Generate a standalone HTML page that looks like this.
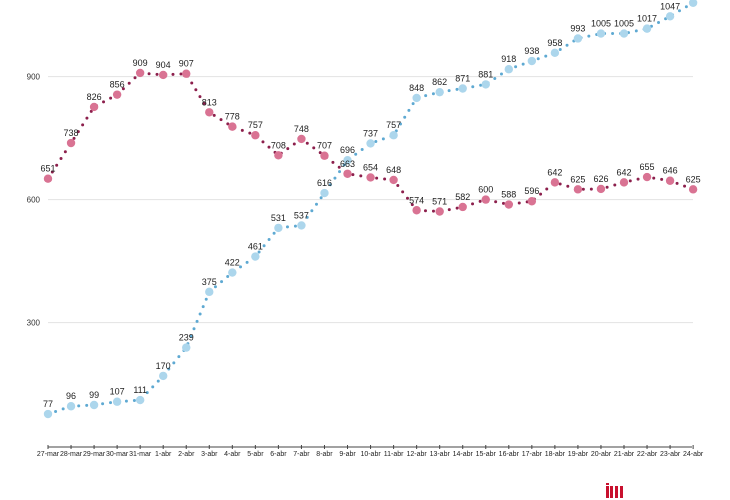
<!DOCTYPE html>
<html><head><meta charset="utf-8"><style>
body{margin:0;background:#fff;}
svg{display:block;font-family:"Liberation Sans",sans-serif;}
</style></head><body>
<svg id="s" width="730" height="500" xmlns="http://www.w3.org/2000/svg"></svg>
<script>
const s=document.getElementById('s');
const pink=[651,738,826,856,909,904,907,813,778,757,708,748,707,663,654,648,574,571,582,600,588,596,642,625,626,642,655,646,625];
const blue=[77,96,99,107,111,170,239,375,422,461,531,537,616,696,737,757,848,862,871,881,918,938,958,993,1005,1005,1017,1047,1080];
const dates=[];for(let d=27;d<=31;d++)dates.push(d+'-mar');for(let d=1;d<=24;d++)dates.push(d+'-abr');
const X=i=>48+i*23.04, Y=v=>445.6-v*0.41;
let h='';
[[900,77],[600,200],[300,323]].forEach(([v,y])=>{h+=`<line x1="48" x2="693" y1="${Y(v)}" y2="${Y(v)}" stroke="#e2e2e2" stroke-width="1"/><text x="40" y="${Y(v)+3}" font-size="8" text-anchor="end" fill="#333">${v}</text>`;});
h+=`<line x1="48" x2="692" y1="447" y2="447" stroke="#444" stroke-width="1"/>`;
dates.forEach((d,i)=>{h+=`<line x1="${X(i)}" x2="${X(i)}" y1="445" y2="449" stroke="#444"/><text x="${X(i)}" y="456" font-size="7" text-anchor="middle" fill="#222">${d}</text>`;});
function series(data,big,small,lastLabel){
  let p=data.map((v,i)=>`${X(i)},${Y(v)}`).join(' ');
  let o=`<polyline points="${p}" fill="none" stroke="${small}" stroke-width="3" stroke-linecap="round" stroke-dasharray="0 8"/>`;
  data.forEach((v,i)=>{o+=`<circle cx="${X(i)}" cy="${Y(v)}" r="4.2" fill="${big}"/>`;
  if(i<28||lastLabel)o+=`<text x="${X(i)}" y="${Y(v)-7}" font-size="9" text-anchor="middle" fill="#222">${v}</text>`;});
  return o;
}
h+=series(blue,'#acd6ec','#5ea9d2',false);
h+=series(pink,'#d97393','#8c1f4c',true);
h+=`<g fill="#c8102e"><rect x="606" y="486" width="3" height="12"/><rect x="610" y="486" width="3" height="12"/><rect x="615" y="486" width="3" height="12"/><rect x="620" y="486" width="3" height="12"/><rect x="606" y="483" width="3" height="2"/></g>`;
s.innerHTML=h;
</script>
</body></html>
